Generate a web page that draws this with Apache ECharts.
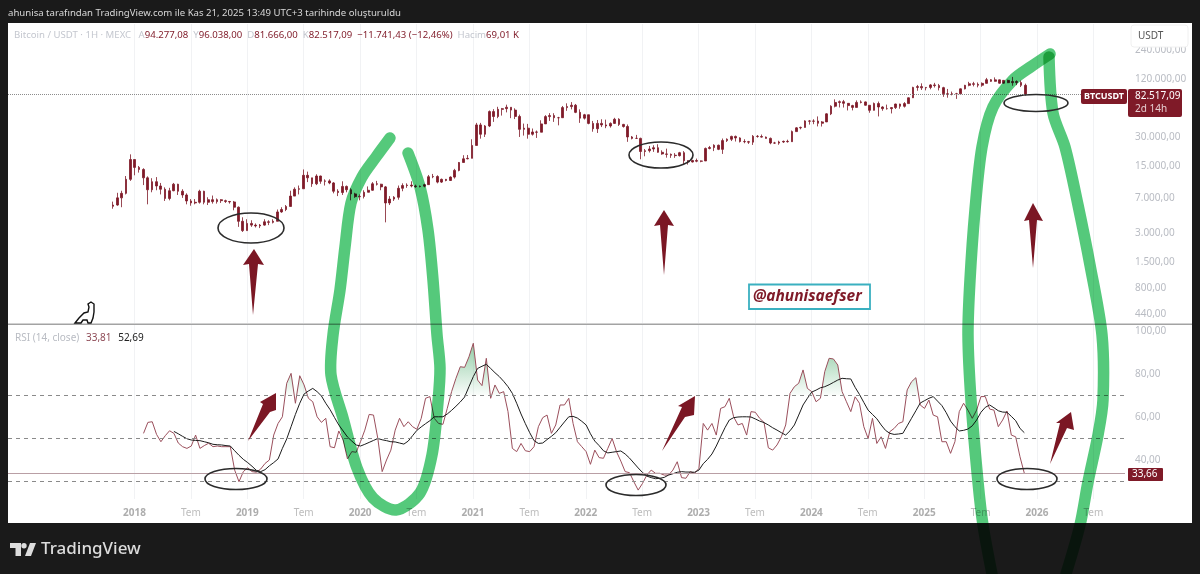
<!DOCTYPE html>
<html><head><meta charset="utf-8">
<style>html,body{margin:0;padding:0;background:#1a1a1a}#c{width:1200px;height:574px}</style>
<script src="https://cdn.jsdelivr.net/npm/echarts@6/dist/echarts.min.js"></script>
</head><body><div id="c"></div>
<script>
// Candles, every 14 days from Oct 2017, thousand USDT
const firstCandleYear = 2017.81;
const candleStepYears = 14 / 365.25;
const closes = [
5.9,7.0,7.8,10.9,17.5,14.5,
13.8,11.3,8.5,10.3,9.3,8.6,6.9,8.3,9.7,8.2,7.5,6.5,6.2,6.3,8.2,6.3,6.7,6.4,6.7,6.55,6.42,6.35,5.6,4.0,3.2,3.8,
3.65,3.58,3.65,3.95,3.9,4.0,5.0,5.3,5.7,7.3,8.6,8.7,12.0,11.3,9.8,11.8,10.4,10.5,10.0,8.2,7.95,9.2,8.5,7.7,7.2,7.25,
8.0,8.4,9.8,9.7,9.1,6.2,6.8,7.1,8.8,9.4,9.5,9.3,9.15,9.25,9.6,11.6,11.65,10.2,10.9,10.6,11.5,13.5,16.3,17.8,18.0,24.5,
40,32,39,55,48.9,58,59,61,57,49,36,37,32,33.8,33.6,41,48.8,50,47.5,47.5,60.5,62,64,54,47,51,
41.5,36.5,41.5,40,39,41.5,45.8,40.5,38.5,30,29,29,21.2,21.6,22.5,23.2,20.8,20,19.8,19.4,19.2,20.6,17,16.5,17.1,16.8,
16.9,22.8,23.3,24.6,22.3,27.5,28.4,30.4,29.3,26.9,26.8,26.5,30.5,30.3,29.9,29,26,25.9,26.6,27,26.8,34.1,37.3,37.7,44,43.7,
43.9,41.6,43,52.1,62.5,68.4,69.7,67,63.5,60.8,68.5,69.3,64,56.7,66.7,61.4,59,59,60.5,65.9,62.4,66.6,76.5,98,99.9,97,
98,104,102.4,97.5,84.3,84,84.3,84,94.7,103,107,105.5,103.3,108,117.8,113.3,117.4,108.4,116,109.7,113,110,103,82.517];
const highs = [
6.4,7.9,8.3,11.8,19.8,17.2,
15.0,14.2,11.7,11.2,11.5,10.0,9.0,8.9,10.0,9.8,8.6,7.8,6.8,6.8,8.5,8.3,7.1,7.4,6.9,6.8,6.7,6.5,6.5,5.7,4.4,4.2,
4.1,3.8,3.75,4.2,4.1,4.2,5.3,5.6,5.9,8.3,9.0,9.4,13.8,13.1,11.3,12.3,11.9,10.9,10.9,10.2,8.6,10.4,9.4,8.8,7.9,7.6,
8.4,9.2,10.2,10.5,9.8,9.3,7.3,7.3,9.4,9.9,9.9,10.4,9.6,9.4,9.8,12.1,12.4,12.0,11.1,11.0,11.7,14.0,16.5,19.4,19.5,28.4,
42,42,39.9,56.5,58.3,61.7,60,64.9,58.5,59.5,51.2,41.3,41,36.7,35,44.7,50.5,53,52.9,48.5,62.9,67,69,66,58,52.1,
47.9,44,45,45.8,45.4,42.5,47.4,46.9,41,40.4,30.7,31.5,29.5,22.5,24.2,24.6,25.2,21.8,22.7,20.2,20.4,21,21.4,17.2,17.4,17.9,
17.1,23.3,24.2,25.2,25,28.9,29,30.9,31,29.8,28.4,27.3,31.4,31.4,31.8,30.3,29.6,26.7,27.4,27.5,28.1,35,37.9,38.4,44.7,45,
45.8,49,43.9,52.8,64,73.7,71.7,72.7,67.2,64.7,71.9,71.9,70,63.8,68.3,69.9,62.5,65,61,66.4,66.4,69,77,99.5,104,108,
99,106,109.3,106.5,99.5,94.5,88.7,86.1,95.7,104.2,112,112,110.3,110.5,123,119.7,124.5,117.9,116.8,117.8,126,116,115.4,107.3];
const lows = [
5.4,5.8,5.6,7.6,10.5,12.0,
12.8,9.5,6.0,8.0,8.4,7.6,6.5,6.6,8.2,7.5,7.0,6.0,5.8,6.0,6.1,6.0,5.9,6.1,6.1,6.2,6.2,6.1,5.2,3.5,3.1,3.2,
3.5,3.45,3.4,3.6,3.65,3.8,4.0,4.9,5.1,5.7,7.4,7.6,9.0,10.2,9.1,9.5,9.8,9.4,9.7,7.8,7.3,7.5,8.0,6.6,7.0,6.6,
6.9,8.0,8.3,9.4,8.4,3.9,5.9,6.5,6.7,8.2,8.9,9.0,8.9,9.0,9.0,9.7,11.2,9.9,10.0,10.4,10.5,11.1,13.2,16.3,17.6,18.0,
27.7,28.8,30,38,43,47,50,54,47,46,30,31,28.8,31,29.3,33.6,41,44,43,39.6,47.2,56,58,53,42,45.5,
40.6,34,33,38,37,37.5,41,39,37.5,26.7,28.3,28.8,17.6,18.9,20.7,21,20.6,19.6,18.3,18.2,18.2,18.8,15.7,15.5,16.3,16.4,
16.4,16.9,22.3,21.4,21.9,20.0,26.6,27.2,26.9,26.3,25.8,25.4,24.8,29.5,29.5,28.9,25.2,25.4,24.9,26,26.2,26.7,34,36,37.5,40.3,
40.7,38.6,38.5,42.8,50.6,60.8,60.7,60.6,56.5,56.6,60.7,66.9,63.4,53.5,56.5,49,56.1,57.7,52.6,58.5,58.9,60.6,66.8,76,90.5,92.2,
91.3,93.7,97.8,91.2,78.2,76.6,81.1,74.5,83.9,93.4,100.7,100.4,98.2,99.6,107.5,111.9,112.6,107.3,107.3,108.6,102,103.5,98.9,80.6];

// RSI and its moving average, on a half-month grid
const firstRsiYear = 2018.08;
const rsiStepYears = 1 / 26;
const rsiValues = [
52.4,57.5,57.8,51.9,48.5,51.3,53.6,52.4,47.9,46.2,45.4,46.5,51.6,45.4,46.7,47.8,46.2,46.5,46.2,46.2,46.2,35.3,29.9,34.6,36.4,34.6,34.3,35.8,38.4,40,
51.6,57,60.1,75.7,80.3,66.4,79.2,74.9,68.7,67.1,60.1,57.5,59.4,46.2,45.7,53.5,49.3,40.5,43.9,43.6,48.5,53.9,61.2,60.9,50,34.6,40,44.6,53.9,59.4,
55.5,57.8,55.5,54.3,59.4,68.7,69.5,59.4,57,56.6,64,71.8,78,83.4,83.1,88,94.3,77.2,74.6,87.3,68.7,74.9,71,71.8,62.5,45.4,43.9,47.7,44.3,43.9,
46.2,55.5,59.7,60.9,52.4,56.3,65.6,65.6,68.7,57,48.5,46.2,43.9,38,44.6,41.1,40.8,45.4,50,43.9,39.5,34.6,34.1,29.9,26,29.1,33,35.3,33.8,33.8,
33,33,35.3,39.2,31.8,31.5,34.6,33.8,36.1,57,53.9,57,51.6,64,64.8,68.7,60.1,56.3,57,51.6,62.5,62.2,59.4,57.5,45.7,44.6,47,50.8,56.3,71,
74.1,75.7,81.9,73.3,71.8,67.1,68.7,81.1,87.3,87,84.2,71.8,67.1,62.5,69.4,66.4,55.5,50,59.4,47.7,50.8,45.4,53.2,54.7,57,57.8,72.6,76.4,78.3,65.6,
64,67.9,60.9,60.1,48.5,48.5,43.1,48.5,62.5,66.4,63.2,59.4,63.2,69.5,69.5,63.7,63.2,55.5,58.6,62.8,51.6,50.8,41.5,33.81];
const rsiAverage = [
null,null,null,null,null,null,null,53.3,52.2,51,49.9,49.3,49.1,49,48.5,48,47.3,47.1,47,46.7,46.5,44.3,42.2,40.3,38.8,37.1,35.2,34.6,35.5,37.3,
38.8,40.5,45.4,49.8,55.5,61.2,66.4,70.7,72.1,73.3,71.8,69.8,66.4,63.4,59.8,56.3,53.5,50.7,48.8,47,46.5,47.3,48.2,49.1,50,49.4,49,48.5,48.4,47.9,
47.4,48.8,51.3,53.8,55.4,56.9,58.3,60.1,60.1,60.1,61.4,63.1,65,67,69.3,74.1,78.8,82.6,83.6,84.5,82.6,80.6,78.8,76.6,74.1,71,66.4,61.4,56.9,52.7,
49,47.7,47.9,49.5,51,52.7,55.2,57.7,60.1,60.3,59.5,58,56.3,52.2,48.8,46.7,44.3,43.3,43.6,43.9,44.2,42.8,40.9,38.6,36.3,34.2,32.5,31.8,31.3,31.5,
31.9,33,33.6,34.3,34.6,34.4,34.4,34.3,35.3,38.3,40.3,42.8,46.5,50.8,55,58.6,59.7,60,60.1,60.1,60,59.1,58.1,57.4,56.3,55,53.9,52.7,51.6,53.6,
56.3,60.9,65.6,68.7,71.6,72.5,73.6,74.1,75,76.1,77.2,78,77.8,77.7,73.8,70.5,66.8,63.2,61.2,59.2,56.3,53.8,52.4,51.9,52.1,52.4,55.9,59.4,62.9,66.5,
67.6,68.7,69.5,67.4,65.3,62,58.1,55.5,53.5,53.8,54.4,55.9,58.6,62.2,64.5,65.6,64.3,62.9,62.3,62.2,60.3,58.3,54.7,52.69];

const rsiBands = [70, 50, 30];
const rsiLast = 33.66;
const overboughtLevel = 70;
const lastPrice = 82517.09;

const xTickValues = [2018,2018.5,2019,2019.5,2020,2020.5,2021,2021.5,2022,2022.5,2023,2023.5,2024,2024.5,2025,2025.5,2026,2026.5];
const xTickLabels = ['2018','Tem','2019','Tem','2020','Tem','2021','Tem','2022','Tem','2023','Tem','2024','Tem','2025','Tem','2026','Tem'];
const priceTicks = [240000,120000,30000,15000,7000,3000,1500,800,440];
const priceTickLabels = ['240.000,00','120.000,00','30.000,00','15.000,00','7.000,00','3.000,00','1.500,00','800,00','440,00'];
const rsiTicks = [100,80,60,40];
const rsiTickLabels = ['100,00','80,00','60,00','40,00'];

const titleText = 'ahunisa tarafından TradingView.com ile Kas 21, 2025 13:49 UTC+3 tarihinde oluşturuldu';
const handleText = '@ahunisaefser';

const FONT = '"Noto Sans", sans-serif';
const RED = '#7f1a28';
const GREY = '#b9bcc3';

const candleData = closes.map((c, i) => {
  const o = i ? closes[i - 1] : c * 0.97;
  return [firstCandleYear + i * candleStepYears, o * 1000, c * 1000,
          Math.min(lows[i], o, c) * 1000, Math.max(highs[i], o, c) * 1000];
});
const rsiX = i => firstRsiYear + i * rsiStepYears;
const rsiLine = rsiValues.map((v, i) => [rsiX(i), v]);
const avgLine = rsiAverage.map((v, i) => [rsiX(i), v]);
const overbought = rsiValues.map((v, i) => [rsiX(i), Math.max(v, overboughtLevel)]);

const pickTick = (ticks, labels) => v => {
  let best = 0;
  ticks.forEach((t, i) => { if (Math.abs(t - v) < Math.abs(ticks[best] - v)) best = i; });
  return labels[best];
};

const GREEN = '#55c97b';
const strokes = [
  [[390,138],[376,157],[362,177],[351,203],[345,247],[340,290],[333,335],[331,375],[343,418],[357,468],[373,498],[396,510],[420,493],[432,455],[438,402],[440,368],[437,335],[433,280],[428,230],[420,187],[408,153]],
  [[1050,54],[1032,66],[1013,80],[993,107],[982,147],[975,210],[970,280],[968,335],[971,400],[978,482],[983,525],[992,574]],
  [[1049,57],[1053,113],[1065,147],[1078,205],[1090,265],[1102,335],[1103,400],[1098,435],[1088,482],[1080,525],[1066,574]]
];
const ellipses = [[251,228,33,15],[661,155,32,13],[1036,103,32,8.5],[236,479,31,10.5],[636,485,30,10.5],[1027,479,30,10.5]];
const arrows = [
  [[253,315],[249,264],[243,265],[254,249],[264,265],[258,264]],
  [[664,275],[660,225],[654,226],[664,210],[674,226],[668,225]],
  [[1033,268],[1029,220],[1024,221],[1033,203],[1043,221],[1037,220]],
  [[248,441],[263,404],[260,402],[276,393],[276,410],[270,412]],
  [[662,451],[682,407],[678,406],[695,396],[694,415],[685,417]],
  [[1050,464],[1060,423],[1056,423],[1071,412],[1074,430],[1067,428]]
];

const txt = (x, y, text, fill, size, extra) => ({type:'text', x, y, z:60,
  style:Object.assign({text, fill, font:`${size}px ${FONT}`, textVerticalAlign:'middle'}, extra||{})});

const graphic = [
  {type:'rect', z:-10, shape:{x:8,y:23,width:1184,height:500}, style:{fill:'#ffffff'}},
  {type:'rect', z:5, shape:{x:8,y:323.5,width:1184,height:1.5}, style:{fill:'#a3a3a3'}},
  txt(8, 13, titleText, '#d8d8d8', 9.6),
  {type:'text', x:14, y:35, z:60, style:{
    text:'{g|Bitcoin / USDT · 1H · MEXC   A}{r|94.277,08}{g|  Y}{r|96.038,00}{g|  D}{r|81.666,00}{g|  K}{r|82.517,09}{r|  −11.741,43 (−12,46%)}{g|  Hacim}{r|69,01 K}',
    textVerticalAlign:'middle',
    rich:{g:{fill:'#c4c7cf',font:`9.6px ${FONT}`}, r:{fill:RED,font:`9.6px ${FONT}`}}}},
  {type:'text', x:15, y:338, z:60, style:{
    text:'{g|RSI (14, close)}  {r|33,81}  {k|52,69}',
    textVerticalAlign:'middle',
    rich:{g:{fill:'#b9bcc3',font:`10px ${FONT}`}, r:{fill:'#8e4a56',font:`10px ${FONT}`}, k:{fill:'#222',font:`10px ${FONT}`}}}},
  {type:'rect', z:50, shape:{x:1131,y:25,width:57,height:22,r:3}, style:{fill:'#fff',stroke:'#f0f0f0'}},
  txt(1138, 36, 'USDT', '#555', 10),
  {type:'rect', z:55, shape:{x:1081,y:89,width:46,height:15,r:2}, style:{fill:RED}},
  txt(1084, 96.5, 'BTCUSDT', '#fff', 9, {font:`bold 9px ${FONT}`}),
  {type:'rect', z:55, shape:{x:1128,y:89,width:54,height:28,r:2}, style:{fill:RED}},
  txt(1135, 96.5, '82.517,09', '#fff', 10),
  txt(1135, 109, '2d 14h', '#e6cdd0', 10),
  {type:'rect', z:55, shape:{x:1128,y:468,width:35,height:13,r:1}, style:{fill:RED}},
  txt(1132, 474.5, '33,66', '#fff', 10),
  {type:'rect', z:55, shape:{x:749,y:284.5,width:121,height:24.5}, style:{fill:'#fff',stroke:'#3ab0c0',lineWidth:1.8}},
  txt(753, 297, handleText, RED, 15.5, {font:`italic bold 15.5px ${FONT}`}),
  {type:'polygon', z:60, shape:{points:[[75,323],[79,318],[84,313],[88,312],[89,307],[88,304],[91,302],[94,304],[94,312],[93,318],[91,323],[88,323],[87,320],[83,320],[81,323],[78,323]]},
    style:{fill:'#fff',stroke:'#111',lineWidth:1.4}},
  {type:'polygon', z:60, shape:{points:[[10,543],[21,543],[21,556],[15.5,556],[15.5,548],[10,548]]}, style:{fill:'#dcdcdc'}},
  {type:'circle', z:60, shape:{cx:24,cy:545.7,r:2.7}, style:{fill:'#dcdcdc'}},
  {type:'polygon', z:60, shape:{points:[[30,543],[36,543],[31,556],[25,556]]}, style:{fill:'#dcdcdc'}},
  txt(41, 549.5, 'TradingView', '#dcdcdc', 17, {font:`500 17px ${FONT}`})
];
strokes.forEach(p => graphic.push({type:'polyline', z:40, shape:{points:p, smooth:0.3},
  style:{stroke:GREEN, lineWidth:11.5, fill:null, lineCap:'round', lineJoin:'round', blend:'multiply'}}));
ellipses.forEach(e => graphic.push({type:'ellipse', z:41, shape:{cx:e[0],cy:e[1],rx:e[2],ry:e[3]},
  style:{stroke:'#2b2b2b', lineWidth:1.6, fill:null}}));
arrows.forEach(a => graphic.push({type:'polygon', z:42, shape:{points:a}, style:{fill:'#7b1724'}}));

const xBase = {type:'value', min:2016.8785, max:2026.78,
  axisLine:{show:false}, splitLine:{show:true, lineStyle:{color:'#f1f2f4', width:1}}};
const noLine = {show:false};

const option = {
  animation:false,
  backgroundColor:'#1a1a1a',
  graphic:{elements:graphic},
  grid:[
    {left:8, right:75, top:24, height:299},
    {left:8, right:75, top:325, height:174}
  ],
  xAxis:[
    Object.assign({}, xBase, {gridIndex:0, axisLabel:{show:false}, axisTick:{show:false, customValues:xTickValues}}),
    Object.assign({}, xBase, {gridIndex:1, axisTick:{show:false, customValues:xTickValues},
      axisLabel:{customValues:xTickValues, margin:9, hideOverlap:false,
        formatter:v=>{const l=pickTick(xTickValues,xTickLabels)(v);return l==='Tem'?`{m|${l}}`:`{y|${l}}`;},
        rich:{m:{color:'#bcbcbc',fontSize:10,fontFamily:'"Noto Sans"'},y:{color:'#adadad',fontSize:10,fontWeight:'bold',fontFamily:'"Noto Sans"'}}}})
  ],
  yAxis:[
    {type:'log', gridIndex:0, position:'right', min:352, max:446000, logBase:2,
     axisLine:noLine, splitLine:noLine, axisTick:{show:false, customValues:priceTicks},
     axisLabel:{customValues:priceTicks, formatter:pickTick(priceTicks,priceTickLabels), color:GREY, fontSize:10, fontFamily:'"Noto Sans"', margin:10, hideOverlap:false, showMinLabel:true, showMaxLabel:true}},
    {type:'value', gridIndex:1, position:'right', min:21.86, max:102.8,
     axisLine:noLine, splitLine:noLine, axisTick:{show:false, customValues:rsiTicks},
     axisLabel:{customValues:rsiTicks, formatter:pickTick(rsiTicks,rsiTickLabels), color:GREY, fontSize:10, fontFamily:'"Noto Sans"', margin:10, hideOverlap:false}}
  ],
  series:[
    {type:'candlestick', name:'BTCUSDT', xAxisIndex:0, yAxisIndex:0, barWidth:2.2, data:candleData,
     encode:{x:0,y:[1,2,3,4]},
     itemStyle:{color:RED,color0:RED,borderColor:RED,borderColor0:RED,borderWidth:0.8},
     markLine:{silent:true,symbol:'none',animation:false,label:{show:false},
       lineStyle:{color:'#8c8c8c',type:'dotted',width:1},data:[{yAxis:lastPrice}]}},
    {type:'line', name:'overbought', xAxisIndex:1, yAxisIndex:1, data:overbought, symbol:'none',
     lineStyle:{width:0},
     areaStyle:{origin:overboughtLevel, color:{type:'linear',x:0,y:0,x2:0,y2:1,colorStops:[{offset:0,color:'rgba(60,165,95,0.8)'},{offset:1,color:'rgba(60,165,95,0.03)'}]}}},
    {type:'line', name:'RSI', xAxisIndex:1, yAxisIndex:1, data:rsiLine, symbol:'none',
     lineStyle:{color:'#9b4f5c',width:1},
     markLine:{silent:true,symbol:'none',animation:false,label:{show:false},
       data:[
         ...rsiBands.map(b=>({yAxis:b,lineStyle:{color:'#8a8a8a',type:[4,4],width:1}})),
         {yAxis:rsiLast,lineStyle:{color:'#b99fa5',type:'solid',width:1.2}}
       ]}},
    {type:'line', name:'RSI MA', xAxisIndex:1, yAxisIndex:1, data:avgLine, symbol:'none', connectNulls:false,
     lineStyle:{color:'#1c1c1c',width:1}}
  ]
};
const chart = echarts.init(document.getElementById('c'), null, {renderer:'canvas', width:1200, height:574});
chart.setOption(option);
</script></body></html>
